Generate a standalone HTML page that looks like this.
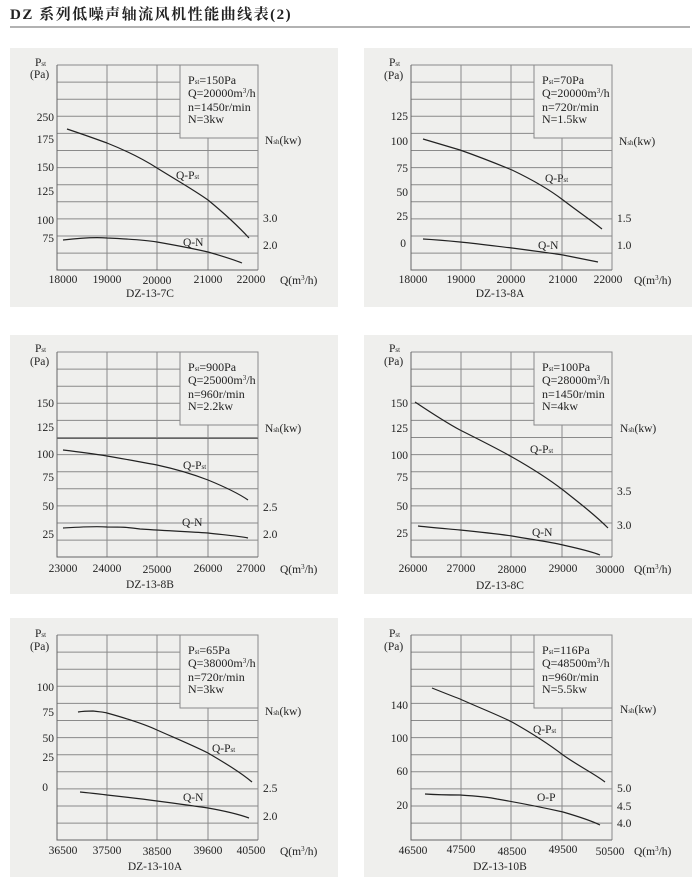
<!DOCTYPE html>
<html><head><meta charset="utf-8"><style>
body{margin:0;background:#fff;}
svg{display:block;font-family:"Liberation Serif","Noto Serif CJK SC",serif;}
.t{font-size:11.5px;fill:#222;}
.b{font-size:12px;fill:#222;}
.s{font-size:7px;}
.c{fill:none;stroke:#222;stroke-width:1.2;}
</style></head><body>
<svg width="700" height="882" viewBox="0 0 700 882">
<defs>
<g id="grid">
<rect x="-47" y="-17" width="328" height="259" fill="#efefed"/>
<path d="M0 0H201M0 17.1H201M0 34.2H201M0 51.3H201M0 68.4H201M0 85.5H201M0 102.6H201M0 119.7H201M0 136.8H201M0 153.9H201M0 171H201M0 188.1H201M50 0V205M100 0V205M151 0V205M201 0V205" stroke="#8a8a8a" stroke-width="1" fill="none"/>
<path d="M0 0V205H201" stroke="#666" stroke-width="1" fill="none"/>
<rect x="123" y="0" width="78" height="73" fill="#efefed" stroke="#8a8a8a"/>
</g>
</defs>
<text x="10" y="19" style="font-family:'Liberation Serif','Noto Serif CJK SC',serif;font-size:15px;font-weight:bold;fill:#222;letter-spacing:1.5px">DZ 系列低噪声轴流风机性能曲线表(2)</text>
<line x1="10" y1="27" x2="690" y2="27" stroke="#999" stroke-width="1.5"/>

<!-- Panel 1 -->
<use href="#grid" x="57" y="65"/>
<g class="t">
<text x="35" y="66">P<tspan class="s">st</tspan></text><text x="30" y="78">(Pa)</text>
<g text-anchor="end"><text x="54" y="121">250</text><text x="54" y="143">175</text><text x="54" y="171">150</text><text x="54" y="195">125</text><text x="54" y="224">100</text><text x="54" y="242">75</text></g>
<text x="265" y="144">N<tspan class="s">sh</tspan>(kw)</text><text x="263" y="222">3.0</text><text x="263" y="249">2.0</text>
<g text-anchor="middle"><text x="63" y="283">18000</text><text x="107" y="283">19000</text><text x="157" y="284">20000</text><text x="208" y="283">21000</text><text x="251" y="283">22000</text><text x="150" y="297">DZ-13-7C</text></g>
<text x="280" y="284">Q(m<tspan class="s" dy="-4">3</tspan><tspan dy="4">/h)</tspan></text>
<text x="176" y="179">Q-P<tspan class="s">st</tspan></text><text x="183" y="246">Q-N</text>
</g>
<g class="b"><text x="188" y="84">P<tspan class="s">st</tspan>=150Pa</text><text x="188" y="97">Q=20000m<tspan class="s" dy="-4">3</tspan><tspan dy="4">/h</tspan></text><text x="188" y="111">n=1450r/min</text><text x="188" y="123">N=3kw</text></g>
<path class="c" d="M67 129 C85 135 96 139 107 143 C127 151 143 159 157 168 C178 181 194 190 208 200 C225 214 238 226 249 238"/>
<path class="c" d="M63 240 C80 238 95 237 107 238 C130 239 145 240 157 242 C180 246 195 249 208 252 C222 256 232 259 242 263"/>

<!-- Panel 2 -->
<use href="#grid" x="411" y="65"/>
<g class="t">
<text x="389" y="66">P<tspan class="s">st</tspan></text><text x="384" y="79">(Pa)</text>
<g text-anchor="end"><text x="408" y="120">125</text><text x="408" y="145">100</text><text x="408" y="172">75</text><text x="408" y="196">50</text><text x="408" y="220">25</text><text x="406" y="247">0</text></g>
<text x="619" y="145">N<tspan class="s">sh</tspan>(kw)</text><text x="617" y="222">1.5</text><text x="617" y="249">1.0</text>
<g text-anchor="middle"><text x="413" y="283">18000</text><text x="461" y="283">19000</text><text x="511" y="283">20000</text><text x="563" y="283">21000</text><text x="608" y="283">22000</text><text x="500" y="297">DZ-13-8A</text></g>
<text x="634" y="284">Q(m<tspan class="s" dy="-4">3</tspan><tspan dy="4">/h)</tspan></text>
<text x="545" y="182">Q-P<tspan class="s">st</tspan></text><text x="538" y="249">Q-N</text>
</g>
<g class="b"><text x="542" y="84">P<tspan class="s">st</tspan>=70Pa</text><text x="542" y="97">Q=20000m<tspan class="s" dy="-4">3</tspan><tspan dy="4">/h</tspan></text><text x="542" y="111">n=720r/min</text><text x="542" y="123">N=1.5kw</text></g>
<path class="c" d="M423 139 C440 144 450 147 460 150 C480 157 495 163 512 170 C535 181 550 190 563 200 C580 213 592 221 602 229"/>
<path class="c" d="M423 239 C440 240 450 241 460 242 C480 244 495 246 512 248 C535 251 550 253 563 255 C578 258 588 260 598 262"/>

<!-- Panel 3 -->
<use href="#grid" x="57" y="352"/>
<line x1="57" y1="438.5" x2="258" y2="438.5" stroke="#666"/>
<g class="t">
<text x="35" y="352">P<tspan class="s">st</tspan></text><text x="30" y="365">(Pa)</text>
<g text-anchor="end"><text x="54" y="407">150</text><text x="54" y="431">125</text><text x="54" y="458">100</text><text x="54" y="481">75</text><text x="54" y="510">50</text><text x="54" y="538">25</text></g>
<text x="265" y="432">N<tspan class="s">sh</tspan>(kw)</text><text x="263" y="511">2.5</text><text x="263" y="538">2.0</text>
<g text-anchor="middle"><text x="63" y="572">23000</text><text x="107" y="572">24000</text><text x="157" y="573">25000</text><text x="208" y="572">26000</text><text x="251" y="572">27000</text><text x="150" y="588">DZ-13-8B</text></g>
<text x="280" y="573">Q(m<tspan class="s" dy="-4">3</tspan><tspan dy="4">/h)</tspan></text>
<text x="183" y="469">Q-P<tspan class="s">st</tspan></text><text x="182" y="526">Q-N</text>
</g>
<g class="b"><text x="188" y="371">P<tspan class="s">st</tspan>=900Pa</text><text x="188" y="384">Q=25000m<tspan class="s" dy="-4">3</tspan><tspan dy="4">/h</tspan></text><text x="188" y="398">n=960r/min</text><text x="188" y="410">N=2.2kw</text></g>
<path class="c" d="M63 450 C80 452 95 454 107 456 C125 459 140 462 157 465 C180 470 195 475 208 480 C225 487 238 493 248 500"/>
<path class="c" d="M63 528 C80 527 95 526 107 527 C120 527 127 527 140 529 C170 531 195 532 208 533 C225 535 238 536 248 538"/>

<!-- Panel 4 -->
<use href="#grid" x="411" y="352"/>
<g class="t">
<text x="389" y="352">P<tspan class="s">st</tspan></text><text x="384" y="365">(Pa)</text>
<g text-anchor="end"><text x="408" y="407">150</text><text x="408" y="432">125</text><text x="408" y="459">100</text><text x="408" y="481">75</text><text x="408" y="510">50</text><text x="408" y="537">25</text></g>
<text x="620" y="432">N<tspan class="s">sh</tspan>(kw)</text><text x="617" y="495">3.5</text><text x="617" y="529">3.0</text>
<g text-anchor="middle"><text x="413" y="572">26000</text><text x="461" y="572">27000</text><text x="512" y="573">28000</text><text x="563" y="572">29000</text><text x="610" y="573">30000</text><text x="500" y="589">DZ-13-8C</text></g>
<text x="634" y="573">Q(m<tspan class="s" dy="-4">3</tspan><tspan dy="4">/h)</tspan></text>
<text x="530" y="453">Q-P<tspan class="s">st</tspan></text><text x="532" y="536">Q-N</text>
</g>
<g class="b"><text x="542" y="371">P<tspan class="s">st</tspan>=100Pa</text><text x="542" y="384">Q=28000m<tspan class="s" dy="-4">3</tspan><tspan dy="4">/h</tspan></text><text x="542" y="398">n=1450r/min</text><text x="542" y="410">N=4kw</text></g>
<path class="c" d="M415 402 C430 412 445 422 460 430 C480 440 498 449 512 457 C535 470 550 480 563 490 C582 505 596 516 608 528"/>
<path class="c" d="M418 526 C435 528 450 529 460 530 C480 532 498 534 512 536 C535 540 550 542 563 545 C580 549 590 551 600 555"/>

<!-- Panel 5 -->
<use href="#grid" x="57" y="635"/>
<g class="t">
<text x="35" y="637">P<tspan class="s">st</tspan></text><text x="30" y="650">(Pa)</text>
<g text-anchor="end"><text x="54" y="691">100</text><text x="54" y="716">75</text><text x="54" y="742">50</text><text x="54" y="761">25</text><text x="48" y="791">0</text></g>
<text x="265" y="715">N<tspan class="s">sh</tspan>(kw)</text><text x="263" y="792">2.5</text><text x="263" y="820">2.0</text>
<g text-anchor="middle"><text x="63" y="854">36500</text><text x="107" y="854">37500</text><text x="157" y="855">38500</text><text x="208" y="854">39600</text><text x="251" y="854">40500</text><text x="155" y="870">DZ-13-10A</text></g>
<text x="280" y="855">Q(m<tspan class="s" dy="-4">3</tspan><tspan dy="4">/h)</tspan></text>
<text x="212" y="752">Q-P<tspan class="s">st</tspan></text><text x="183" y="801">Q-N</text>
</g>
<g class="b"><text x="188" y="654">P<tspan class="s">st</tspan>=65Pa</text><text x="188" y="667">Q=38000m<tspan class="s" dy="-4">3</tspan><tspan dy="4">/h</tspan></text><text x="188" y="681">n=720r/min</text><text x="188" y="693">N=3kw</text></g>
<path class="c" d="M78 712 C84 711 88 711 93 711 C100 712 104 712 107 713 C125 718 142 723 157 730 C175 738 192 745 208 753 C225 763 240 772 252 782"/>
<path class="c" d="M80 792 C90 793 100 794 107 795 C125 797 142 799 157 801 C180 804 195 806 208 808 C225 811 238 814 249 818"/>

<!-- Panel 6 -->
<use href="#grid" x="411" y="635"/>
<g class="t">
<text x="389" y="637">P<tspan class="s">st</tspan></text><text x="384" y="650">(Pa)</text>
<g text-anchor="end"><text x="408" y="709">140</text><text x="408" y="742">100</text><text x="408" y="775">60</text><text x="408" y="809">20</text></g>
<text x="620" y="713">N<tspan class="s">sh</tspan>(kw)</text><text x="617" y="792">5.0</text><text x="617" y="810">4.5</text><text x="617" y="827">4.0</text>
<g text-anchor="middle"><text x="413" y="854">46500</text><text x="461" y="853">47500</text><text x="512" y="855">48500</text><text x="563" y="853">49500</text><text x="610" y="855">50500</text><text x="500" y="870">DZ-13-10B</text></g>
<text x="634" y="855">Q(m<tspan class="s" dy="-4">3</tspan><tspan dy="4">/h)</tspan></text>
<text x="533" y="733">Q-P<tspan class="s">st</tspan></text><text x="537" y="801">O-P</text>
</g>
<g class="b"><text x="542" y="654">P<tspan class="s">st</tspan>=116Pa</text><text x="542" y="667">Q=48500m<tspan class="s" dy="-4">3</tspan><tspan dy="4">/h</tspan></text><text x="542" y="681">n=960r/min</text><text x="542" y="693">N=5.5kw</text></g>
<path class="c" d="M432 688 C442 692 452 696 460 699 C480 708 498 715 512 722 C535 735 550 745 563 755 C580 767 595 774 605 782"/>
<path class="c" d="M425 794 C440 795 450 795 460 795 C475 796 488 797 497 799 C520 803 545 808 563 812 C580 817 592 821 600 825"/>
</svg>
</body></html>
